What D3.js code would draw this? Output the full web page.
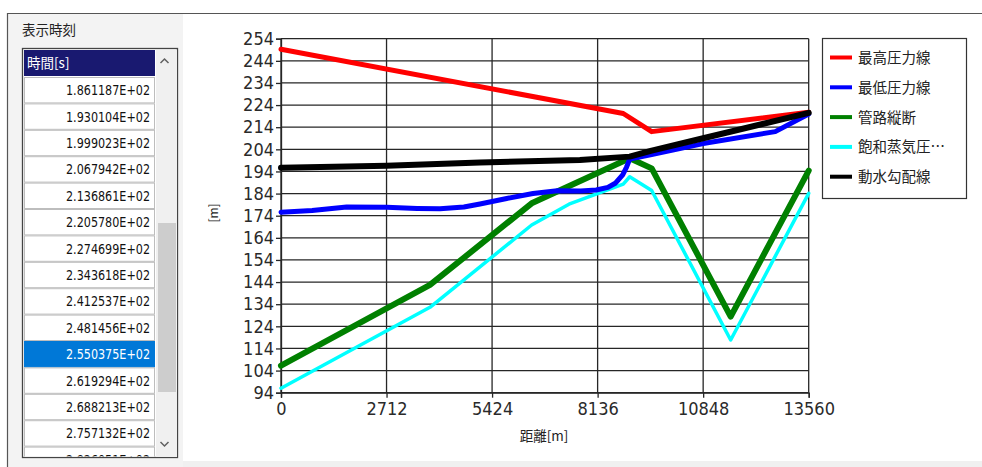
<!DOCTYPE html>
<html><head><meta charset="utf-8">
<script src="https://cdn.jsdelivr.net/npm/d3@7"></script>
<style>body{margin:0;background:#fff;}svg{display:block;}</style>
</head><body><svg id="c" width="982" height="467"></svg>
<script>
// ---- data ----
const distanceTicks = [0, 2712, 5424, 8136, 10848, 13560];
const headTicks = [94, 104, 114, 124, 134, 144, 154, 164, 174, 184, 194, 204, 214, 224, 234, 244, 254];
const seriesNames = ["最高圧力線", "最低圧力線", "管路縦断", "飽和蒸気圧…", "動水勾配線"];

const maxPressX = [0, 8795, 9525, 13560];
const maxPressY = [249.2, 220.2, 212.0, 220.8];

const minPressX = [0, 800, 1688, 2712, 3500, 4085, 4700, 5113, 5800, 6475, 7100, 7700, 8100, 8400, 8600, 8780, 8880, 8960, 9525, 10848, 12700, 13560];
const minPressY = [175.6, 176.4, 177.9, 177.8, 177.3, 177.1, 177.9, 179.3, 181.8, 184.0, 185.3, 185.2, 185.6, 186.8, 188.8, 192.5, 196.0, 199.6, 201.6, 206.6, 212.0, 220.0];

const pipeX = [0, 3828, 6441, 8960, 9525, 11555, 13560];
const pipeY = [106.2, 142.7, 179.6, 200.0, 195.4, 128.4, 194.4];

const vaporX = [0, 3828, 6441, 7400, 8795, 8960, 9525, 11555, 13560];
const vaporY = [96.0, 132.6, 169.8, 179.2, 188.3, 191.6, 185.4, 117.8, 184.1];

const hglX = [0, 2712, 5113, 7680, 8960, 9525, 10848, 13560];
const hglY = [195.7, 196.6, 198.1, 199.2, 200.7, 203.4, 209.0, 220.5];

const timeLabels = ["1.861187E+02", "1.930104E+02", "1.999023E+02", "2.067942E+02", "2.136861E+02",
  "2.205780E+02", "2.274699E+02", "2.343618E+02", "2.412537E+02", "2.481456E+02", "2.550375E+02",
  "2.619294E+02", "2.688213E+02", "2.757132E+02", "2.826051E+02"];
const selectedTime = "2.550375E+02";

// ---- styles ----
const colors = ["#ff0000", "#0000ff", "#008000", "#00ffff", "#000000"];
const widths = [5, 5, 6, 3.5, 6];
const drawOrder = [2, 3, 1, 0, 4];
const series = [
  maxPressX.map((d, i) => [d, maxPressY[i]]),
  minPressX.map((d, i) => [d, minPressY[i]]),
  pipeX.map((d, i) => [d, pipeY[i]]),
  vaporX.map((d, i) => [d, vaporY[i]]),
  hglX.map((d, i) => [d, hglY[i]])
];

const svg = d3.select("#c");
const cjk = "'Noto Sans CJK JP', sans-serif";
const narrow = "'Liberation Sans Narrow', 'Arial Narrow', 'DejaVu Sans Condensed', sans-serif";

// window frame
svg.append("rect").attr("x", 0).attr("y", 0).attr("width", 982).attr("height", 467).attr("fill", "#fff");
svg.append("rect").attr("x", 8).attr("y", 14).attr("width", 175).attr("height", 453).attr("fill", "#f3f3f3");
svg.append("rect").attr("x", 183).attr("y", 461).attr("width", 799).attr("height", 6).attr("fill", "#f0f0f0");
svg.append("line").attr("x1", 7).attr("x2", 982).attr("y1", 13.5).attr("y2", 13.5).attr("stroke", "#555").attr("stroke-width", 1.2);
svg.append("line").attr("x1", 7.5).attr("x2", 7.5).attr("y1", 13).attr("y2", 467).attr("stroke", "#555").attr("stroke-width", 1.2);

// left panel
svg.append("text").attr("x", 22).attr("y", 35).attr("font-family", cjk).attr("font-size", 13.5).attr("fill", "#222").text("表示時刻");
svg.append("rect").attr("x", 22.5).attr("y", 48.5).attr("width", 155).attr("height", 409).attr("fill", "#fff").attr("stroke", "#444").attr("stroke-width", 1.3);
svg.append("rect").attr("x", 156).attr("y", 50).attr("width", 21).attr("height", 407).attr("fill", "#f0f0f0");
svg.append("rect").attr("x", 158).attr("y", 223).attr("width", 18).attr("height", 169).attr("fill", "#cdcdcd");
svg.append("path").attr("d", "M160.5,63 L164.5,59 L168.5,63").attr("fill", "none").attr("stroke", "#606060").attr("stroke-width", 1.5);
svg.append("path").attr("d", "M160.5,442 L164.5,446 L168.5,442").attr("fill", "none").attr("stroke", "#606060").attr("stroke-width", 1.5);
svg.append("rect").attr("x", 24).attr("y", 50).attr("width", 131).attr("height", 26).attr("fill", "#191970");
svg.append("text").attr("x", 27).attr("y", 68).attr("font-family", cjk).attr("font-size", 13.5).attr("fill", "#fff").text("時間[s]");

const clip = svg.append("clipPath").attr("id", "lb");
clip.append("rect").attr("x", 24).attr("y", 50).attr("width", 131).attr("height", 406.5);
const rowH = 26.4;
const rows = svg.append("g").attr("clip-path", "url(#lb)").selectAll("g").data(timeLabels).join("g")
  .attr("transform", (d, i) => `translate(24,${77 + i * rowH})`);
rows.append("rect").attr("x", 0.5).attr("y", 0.5).attr("width", 130).attr("height", rowH - 1)
  .attr("fill", d => d === selectedTime ? "#0078d7" : "#fff")
  .attr("stroke", d => d === selectedTime ? "#0078d7" : "#bdbdbd").attr("stroke-width", 1);
rows.append("text").attr("x", 126).attr("y", rowH / 2 + 5).attr("text-anchor", "end")
  .attr("font-family", narrow).attr("font-size", 14)
  .attr("textLength", 84).attr("lengthAdjust", "spacingAndGlyphs")
  .attr("fill", d => d === selectedTime ? "#fff" : "#111").text(d => d);

// ---- chart ----
const x = d3.scaleLinear().domain([0, 13560]).range([281, 808.7]);
const y = d3.scaleLinear().domain([94, 254]).range([392.7, 38.7]);
const gridColor = "#262626";

const grid = svg.append("g");
grid.selectAll(".h").data(headTicks).join("line")
  .attr("x1", x(0)).attr("x2", x(13560)).attr("y1", d => y(d)).attr("y2", d => y(d))
  .attr("stroke", gridColor).attr("stroke-width", 1.3);
grid.selectAll(".v").data(distanceTicks).join("line")
  .attr("y1", y(94)).attr("y2", y(254)).attr("x1", d => x(d)).attr("x2", d => x(d))
  .attr("stroke", gridColor).attr("stroke-width", 1.3);

const yAxis = svg.append("g").attr("transform", `translate(${x(0)},0)`)
  .call(d3.axisLeft(y).tickValues(headTicks).tickSize(5).tickPadding(2).tickFormat(d3.format("d")));
const xAxis = svg.append("g").attr("transform", `translate(0,${y(94)})`)
  .call(d3.axisBottom(x).tickValues(distanceTicks).tickSize(5).tickPadding(5).tickFormat(d3.format("d")));
[yAxis, xAxis].forEach(a => {
  a.select(".domain").attr("stroke", gridColor).attr("stroke-width", 1.3);
  a.selectAll(".tick line").attr("stroke", gridColor).attr("stroke-width", 1.3);
  a.selectAll("text").attr("font-family", narrow).attr("font-size", 18).attr("fill", "#2a2a2a");
});

svg.append("text").attr("x", 544).attr("y", 441).attr("text-anchor", "middle")
  .attr("font-family", cjk).attr("font-size", 13.5).attr("fill", "#222").text("距離[m]");
svg.append("text").attr("transform", "translate(218,213) rotate(-90)").attr("text-anchor", "middle")
  .attr("font-family", cjk).attr("font-size", 12).attr("fill", "#222").text("[m]");

const line = d3.line().x(d => x(d[0])).y(d => y(d[1]));
const lines = svg.append("g").attr("fill", "none").attr("stroke-linejoin", "round").attr("stroke-linecap", "round");
drawOrder.forEach(i => {
  lines.append("path").attr("d", line(series[i])).attr("stroke", colors[i]).attr("stroke-width", widths[i]);
});

// legend
const lg = svg.append("g");
lg.append("rect").attr("x", 822.5).attr("y", 38.5).attr("width", 144).attr("height", 160)
  .attr("fill", "#fff").attr("stroke", "#333").attr("stroke-width", 1.2);
const items = lg.selectAll("g").data(seriesNames).join("g")
  .attr("transform", (d, i) => `translate(0,${57.5 + i * 29.8})`);
items.append("line").attr("x1", 830).attr("x2", 852).attr("y1", 0).attr("y2", 0)
  .attr("stroke", (d, i) => colors[i]).attr("stroke-width", 4);
items.append("text").attr("x", 858).attr("y", 5.5).attr("font-family", cjk).attr("font-size", 14.5)
  .attr("fill", "#222").text(d => d);
</script></body></html>
